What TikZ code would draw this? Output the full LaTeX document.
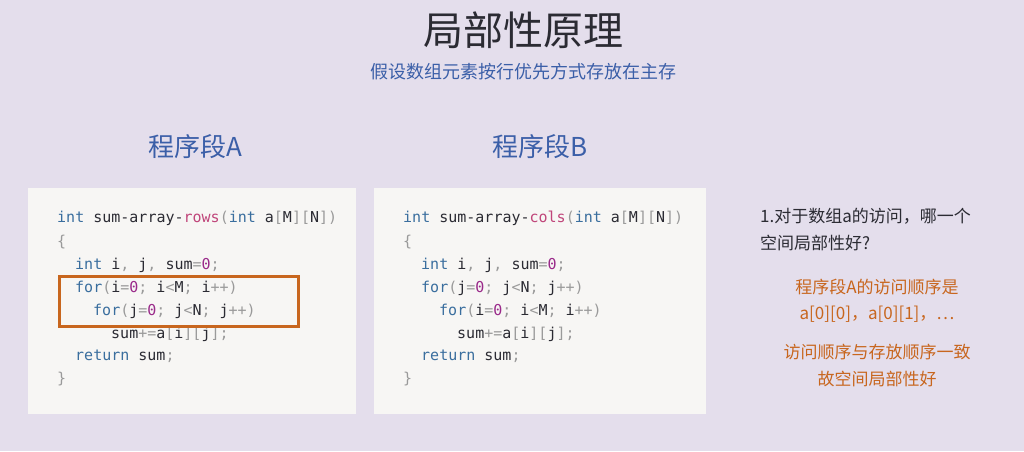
\documentclass[tikz,border=0pt]{standalone}
\usepackage{fontspec}
\setmainfont{Liberation Sans}
\newfontfamily\cjk{Noto Sans CJK SC}
\newfontfamily\code{DejaVu Sans Mono}
\definecolor{bg}{HTML}{E4DEEC}
\definecolor{boxc}{HTML}{F7F6F4}
\definecolor{ttl}{HTML}{2B2B33}
\definecolor{blu}{HTML}{3B5FA8}
\definecolor{kwc}{HTML}{3A6E9E}
\definecolor{puc}{HTML}{9A9A9A}
\definecolor{nmc}{HTML}{9A2A8A}
\definecolor{fnc}{HTML}{C0457A}
\definecolor{org}{HTML}{C8661E}
\newcommand{\kw}[1]{\textcolor{kwc}{#1}}
\newcommand{\pu}[1]{\textcolor{puc}{#1}}
\newcommand{\nm}[1]{\textcolor{nmc}{#1}}
\newcommand{\fnm}[1]{\textcolor{fnc}{#1}}
\tikzset{cl/.style={anchor=west,inner sep=0,font=\code\fontsize{15}{16}\selectfont,text=ttl},
 cbox/.style={fill=boxc,draw=none},
 rt/.style={inner sep=0,font=\cjk\fontsize{17}{20}\selectfont},
 hd/.style={inner sep=0,font=\cjk\fontsize{26}{30}\selectfont,text=blu}}
\begin{document}
\begin{tikzpicture}[x=1pt,y=-1pt]
\fill[bg] (0,0) rectangle (1024,451);
\useasboundingbox (0,0) rectangle (1024,451);
\node[inner sep=0,font=\cjk\fontsize{40}{44}\selectfont,text=ttl] (title) at (523,30) {局部性原理};
\node[inner sep=0,font=\cjk\fontsize{18}{20}\selectfont,text=blu] (sub) at (523,72) {假设数组元素按行优先方式存放在主存};
\node[hd] (ha) at (195,147) {程序段A};
\node[hd] (hb) at (540,147) {程序段B};
\node[cbox,minimum width=328,minimum height=226,anchor=north west] (boxa) at (28,188) {};
\node[cbox,minimum width=332,minimum height=226,anchor=north west] (boxb) at (374,188) {};
% code A
\node[cl] (a1) at (57,218) {\kw{int} sum-array-\fnm{rows}\pu{(}\kw{int} a\pu{[}M\pu{]}\pu{[}N\pu{]}\pu{)}};
\node[cl] (a2) at (57,242) {\pu{\{}};
\node[cl] (a3) at (75,265) {\kw{int} i\pu{,} j\pu{,} sum\pu{=}\nm{0}\pu{;}};
\node[cl] (a4) at (75,288) {\kw{for}\pu{(}i\pu{=}\nm{0}\pu{;} i\pu{<}M\pu{;} i\pu{++)}};
\node[cl] (a5) at (93,311) {\kw{for}\pu{(}j\pu{=}\nm{0}\pu{;} j\pu{<}N\pu{;} j\pu{++)}};
\node[cl] (a6) at (111,334) {sum\pu{+=}a\pu{[}i\pu{][}j\pu{];}};
\node[cl] (a7) at (75,356) {\kw{return} sum\pu{;}};
\node[cl] (a8) at (57,379) {\pu{\}}};
% code B
\node[cl] (b1) at (403,218) {\kw{int} sum-array-\fnm{cols}\pu{(}\kw{int} a\pu{[}M\pu{]}\pu{[}N\pu{]}\pu{)}};
\node[cl] (b2) at (403,242) {\pu{\{}};
\node[cl] (b3) at (421,265) {\kw{int} i\pu{,} j\pu{,} sum\pu{=}\nm{0}\pu{;}};
\node[cl] (b4) at (421,288) {\kw{for}\pu{(}j\pu{=}\nm{0}\pu{;} j\pu{<}N\pu{;} j\pu{++)}};
\node[cl] (b5) at (439,311) {\kw{for}\pu{(}i\pu{=}\nm{0}\pu{;} i\pu{<}M\pu{;} i\pu{++)}};
\node[cl] (b6) at (457,334) {sum\pu{+=}a\pu{[}i\pu{][}j\pu{];}};
\node[cl] (b7) at (421,356) {\kw{return} sum\pu{;}};
\node[cl] (b8) at (403,379) {\pu{\}}};
\node[draw=org,line width=3pt,minimum width=239,minimum height=50,anchor=north west,inner sep=0] (hl) at (58,275) {};
% right text
\node[rt,anchor=west,text=ttl] (q1) at (760,216) {1.对于数组a的访问，哪一个};
\node[rt,anchor=west,text=ttl] (q2) at (760,243) {空间局部性好?};
\node[rt,text=org] (r1) at (877,287) {程序段A的访问顺序是};
\node[rt,text=org] (r2) at (877,314) {a[0][0]，a[0][1]，…};
\node[rt,text=org] (r3) at (877,352) {访问顺序与存放顺序一致};
\node[rt,text=org] (r4) at (877,379) {故空间局部性好};
\end{tikzpicture}
\end{document}
